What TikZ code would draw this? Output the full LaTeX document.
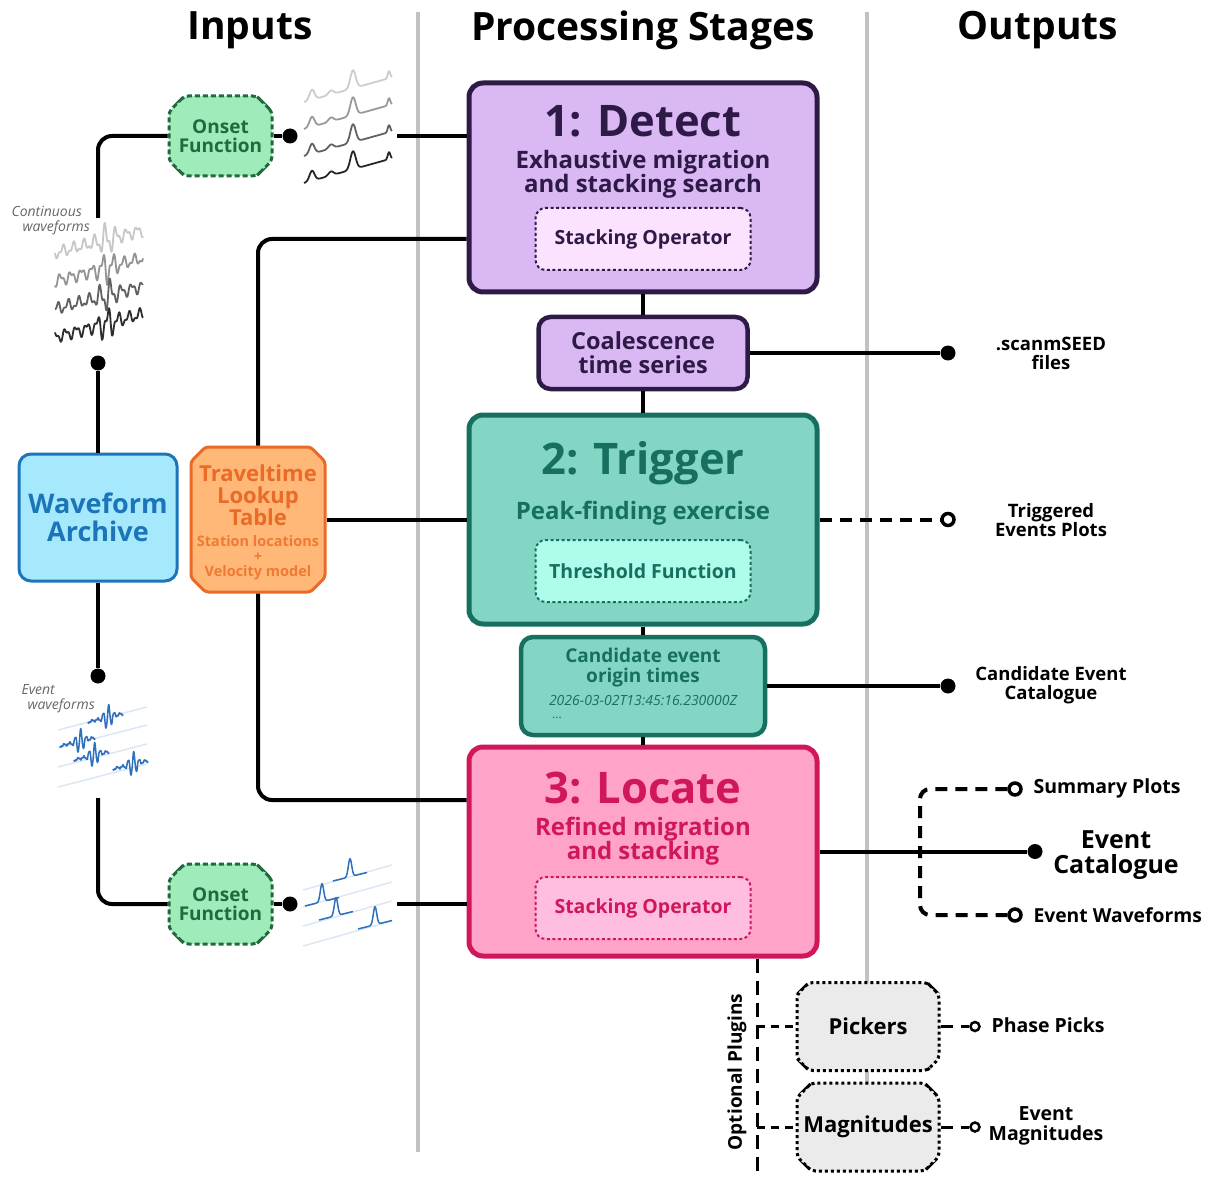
\documentclass[tikz,border=0pt]{standalone}
\usepackage{fontspec}
\setmainfont{Open Sans}
\usetikzlibrary{shapes.misc}

\definecolor{detectLine}{HTML}{2E1A47}
\definecolor{detectFill}{HTML}{DAB8F4}
\definecolor{detectInner}{HTML}{FBE2FE}
\definecolor{trigLine}{HTML}{17705F}
\definecolor{trigFill}{HTML}{84D6C4}
\definecolor{trigInner}{HTML}{AEFCEA}
\definecolor{locLine}{HTML}{D0175A}
\definecolor{locFill}{HTML}{FFA4C8}
\definecolor{locInner}{HTML}{FFBDDF}
\definecolor{archLine}{HTML}{1C74B9}
\definecolor{archFill}{HTML}{A6E9FD}
\definecolor{lutLine}{HTML}{EA6A28}
\definecolor{lutFill}{HTML}{FFB877}
\definecolor{lutText}{HTML}{F07A33}
\definecolor{onsetLine}{HTML}{1F6B3D}
\definecolor{onsetFill}{HTML}{9FEBB9}
\definecolor{plugFill}{HTML}{EBEBEB}
\definecolor{sepGray}{HTML}{C2C2C2}
\definecolor{waveBlue}{HTML}{2F70BD}
\definecolor{guideBlue}{HTML}{DCE7F4}

\newcommand{\fsz}[2]{\fontsize{#1}{#2}\selectfont}

\begin{document}
\begin{tikzpicture}[x=1pt, y=-1pt,
  declare function={gbump(\t,\m,\w)=exp(-((\t-\m)/\w)*((\t-\m)/\w));},
  sepline/.style={draw=sepGray, line width=4.5pt},
  stage/.style={draw, line width=5pt, rounded corners=14pt, minimum width=348pt, minimum height=209pt, inner sep=0pt},
  subbox/.style={draw, line width=2pt, dash pattern=on 3pt off 2.5pt, rounded corners=10pt, minimum width=215pt, minimum height=62pt, font=\bfseries\fsz{19.5}{19.5}},
  stagetitle/.style={font=\bfseries\fsz{43.5}{44}},
  subtitle/.style={align=center, font=\bfseries\fsz{24}{24}},
  midbox/.style={draw, line width=4.5pt, rounded corners=12pt, inner sep=0pt, align=center},
  onset/.style={chamfered rectangle, chamfered rectangle xsep=12pt, rounded corners=4pt, draw=onsetLine, fill=onsetFill, line width=3pt, dash pattern=on 5pt off 3pt, minimum width=103pt, minimum height=80pt, inner ysep=0pt, inner xsep=-5pt, text=onsetLine, align=center, font=\bfseries\fsz{19}{19}},
  plugin/.style={chamfered rectangle, chamfered rectangle xsep=14pt, rounded corners=4pt, draw, fill=plugFill, line width=3pt, dash pattern=on 3pt off 3pt, minimum width=142pt, minimum height=88pt, inner ysep=0pt, inner xsep=-7pt, font=\bfseries\fsz{22}{22}},
  lutbox/.style={chamfered rectangle, chamfered rectangle xsep=11pt, rounded corners=3pt, draw=lutLine, fill=lutFill, line width=3pt, minimum width=134pt, minimum height=145pt, inner ysep=0pt, inner xsep=-11pt},
  conn/.style={line width=4pt},
  dashconn/.style={conn, dash pattern=on 12pt off 8pt},
  dot/.style={circle, fill=black, inner sep=0pt, minimum size=15pt},
  odot/.style={circle, draw, fill=white, line width=3.5pt, inner sep=0pt, minimum size=12pt},
  outtxt/.style={align=center, font=\bfseries\fsz{18.5}{19}},
  headtxt/.style={font=\bfseries\fsz{39}{39}},
  wave/.style={line width=1.8pt, line join=round},
  guide/.style={draw=guideBlue, line width=1.5pt},
  wavelabel/.style={align=left, text=black!60, font=\itshape\fsz{14}{15}},
]
\useasboundingbox (0,0) rectangle (1210,1182);

% column separators
\draw[sepline] (418,12) -- (418,1152);
\draw[sepline] (867,12) -- (867,1150);

% headers
\node[headtxt] (inHead) at (250,30) {Inputs};
\node[headtxt] (procHead) at (643,30) {Processing Stages};
\node[headtxt] (outHead) at (1038,30) {Outputs};

% stage 1
\node[stage, draw=detectLine, fill=detectFill] (detect) at (643,187.5) {};
\node[stagetitle, text=detectLine] (detectTitle) at (643,121) {1: Detect};
\node[subtitle, text=detectLine] (detectSub) at (643,174) {Exhaustive migration\\and stacking search};
\node[subbox, draw=detectLine, fill=detectInner, text=detectLine] (detectOp) at (643,239) {Stacking Operator};

\node[midbox, draw=detectLine, fill=detectFill, text=detectLine, minimum width=209pt, minimum height=72pt, font=\bfseries\fsz{23.5}{24}] (coal) at (643,353) {Coalescence\\time series};

% stage 2
\node[stage, draw=trigLine, fill=trigFill] (trigger) at (643,519.5) {};
\node[stagetitle, text=trigLine] (trigTitle) at (643,463) {2: Trigger};
\node[subtitle, text=trigLine] (trigSub) at (643,513) {Peak-finding exercise};
\node[subbox, draw=trigLine, fill=trigInner, text=trigLine] (trigOp) at (643,571) {Threshold Function};

\node[midbox, draw=trigLine, fill=trigFill, minimum width=244pt, minimum height=98pt] (cand) at (643,686) {};
\node[text=trigLine, align=center, font=\bfseries\fsz{19}{20}] (candTxt) at (643,668) {Candidate event\\origin times};
\node[text=trigLine, inner sep=1pt, font=\itshape\fsz{14}{14}] (candTime) at (643,701) {2026-03-02T13:45:16.230000Z};
\node[text=trigLine, inner sep=1pt, font=\fsz{12}{12}] (candMore) at (557,718) {...};

% stage 3
\node[stage, draw=locLine, fill=locFill] (locate) at (643,851.5) {};
\node[stagetitle, text=locLine] (locTitle) at (643,788) {3: Locate};
\node[subtitle, text=locLine] (locSub) at (643,841) {Refined migration\\and stacking};
\node[subbox, draw=locLine, fill=locInner, text=locLine] (locOp) at (643,908) {Stacking Operator};

% inputs
\node[draw=archLine, fill=archFill, line width=3pt, rounded corners=12pt, minimum width=158pt, minimum height=127pt, text=archLine, align=center, font=\bfseries\fsz{27}{28}] (archive) at (98,517.5) {Waveform\\Archive};
\node[lutbox] (lut) at (258,519.5) {\parbox{134pt}{\centering\bfseries
  \vspace*{5pt}\color{lutLine}\fsz{22}{22}Traveltime\\Lookup\\Table\par\vspace{6pt}
  \color{lutText}\fsz{14.5}{15}Station locations\\+\\Velocity model\par}};

\node[onset] (onsetA) at (220.5,136) {Onset\\Function};
\node[onset] (onsetB) at (220.5,904) {Onset\\Function};

\node[wavelabel, anchor=west] (contTxt) at (8,221) {Continuous\\\hspace*{11pt}waveforms};
\node[wavelabel, anchor=west] (evTxt) at (18,699) {Event\\\hspace*{6pt}waveforms};

% continuous waveforms
\foreach \i/\c in {0/black!22, 1/black!42, 2/black!62, 3/black!82}
  \draw[wave, \c] plot[domain=0:88, samples=220] ({55+\x}, {253+28*\i-0.26*\x+(7+12*gbump(\x,52,9))*(0.65*sin(34*\x+90*\i)+0.35*sin(71*\x))});

% onset traces (top)
\foreach \i/\c in {0/black!20, 1/black!40, 2/black!62, 3/black!85}
  \draw[wave, \c] plot[domain=0:88, samples=180] ({304+\x}, {102+27*\i-0.28*\x-10*gbump(\x,8,3.5)-4*gbump(\x,27,3.5)-18*gbump(\x,49,3.8)-7*gbump(\x,85,1.8)});

% event waveforms
\foreach \l in {730,748,767,787}
  \draw[guide] (58,\l) -- (147,\l-23);
\foreach \sx/\sy in {88/722, 60/746, 74/760, 113/769}
  \draw[wave, waveBlue, line width=1.5pt] plot[domain=0:35, samples=160] ({\sx+\x}, {\sy-0.24*\x+(1+11*gbump(\x,20,5))*sin(65*\x)+0.7*sin(170*\x)});

% event onset traces
\foreach \l in {890,907,926,946}
  \draw[guide] (303,\l) -- (392,\l-25);
\foreach \sx/\sy in {333/881, 305/906, 319/920, 358/929}
  \draw[wave, waveBlue, line width=1.5pt] plot[domain=0:34, samples=120] ({\sx+\x}, {\sy-0.25*\x-18*gbump(\x,17,2.4)});

% input connectors
\coordinate (contTop) at (98,218);
\node[dot] (contDot) at (98,363) {};
\node[dot] (onsetADot) at (290,136) {};
\coordinate (onsetAEnd) at (397,136);
\node[dot] (evDot) at (98,676) {};
\coordinate (evTop) at (98,798);
\node[dot] (onsetBDot) at (290,904) {};
\coordinate (onsetBEnd) at (397,904);

\draw[conn, rounded corners=14pt] (contTop) |- (onsetA.west);
\draw[conn] (onsetA.east) -- (onsetADot);
\draw[conn] (onsetAEnd) -- (onsetAEnd -| detect.west);
\draw[conn] (contDot) -- (archive.north);
\draw[conn] (archive.south) -- (evDot);
\draw[conn, rounded corners=14pt] (evTop) |- (onsetB.west);
\draw[conn] (onsetB.east) -- (onsetBDot);
\draw[conn] (onsetBEnd) -- (onsetBEnd -| locate.west);
\draw[conn, rounded corners=14pt] (lut.north) |- ([yshift=-51.5pt]detect.west);
\draw[conn, rounded corners=14pt] (lut.south) |- ([yshift=51.5pt]locate.west);
\draw[conn] (lut.east) -- (trigger.west);

% stage chain
\draw[conn] (detect.south) -- (coal.north);
\draw[conn] (coal.south) -- (trigger.north);
\draw[conn] (trigger.south) -- (cand.north);
\draw[conn] (cand.south) -- (locate.north);

% outputs
\node[dot] (scanDot) at (948,353) {};
\node[outtxt] (scanTxt) at (1051,353) {.scanmSEED\\files};
\node[odot] (trigDot) at (948,519.5) {};
\node[outtxt] (trigTxt) at (1051,520) {Triggered\\Events Plots};
\node[dot] (candDot) at (948,686) {};
\node[outtxt] (candOut) at (1051,685) {Candidate Event\\Catalogue};
\node[dot] (catDot) at (1035,851.5) {};
\node[outtxt, font=\bfseries\fsz{25}{25}] (catTxt) at (1116,855) {Event\\Catalogue};
\node[odot] (sumDot) at (1015,789) {};
\node[outtxt, anchor=west, font=\bfseries\fsz{19.5}{20}] (sumTxt) at (1030,788) {Summary Plots};
\node[odot] (ewDot) at (1015,915) {};
\node[outtxt, anchor=west, font=\bfseries\fsz{19.3}{20}] (ewTxt) at (1030,915) {Event Waveforms};

\draw[conn] (coal.east) -- (scanDot);
\draw[dashconn] (trigger.east) -- (trigDot);
\draw[conn] (cand.east) -- (candDot);
\draw[conn] (locate.east) -- (catDot);
\draw[dashconn, rounded corners=10pt] (sumDot) -| (920,852) |- (ewDot);

% optional plugins
\node[plugin] (pickers) at (868,1026.5) {Pickers};
\node[plugin] (mags) at (868,1127) {Magnitudes};
\node[odot, minimum size=9pt, line width=2.5pt] (pickDot) at (975,1026.5) {};
\node[odot, minimum size=9pt, line width=2.5pt] (magDot) at (975,1127) {};
\node[outtxt, anchor=west, font=\bfseries\fsz{19.5}{20}] (pickTxt) at (988,1025) {Phase Picks};
\node[outtxt, font=\bfseries\fsz{19.5}{20}] (magTxt) at (1046,1126) {Event\\Magnitudes};
\node[rotate=90, font=\bfseries\fsz{19}{19}] (plugTxt) at (737,1072) {Optional Plugins};
\coordinate (plugBot) at (757,1178);

\draw[conn, line width=3pt, dash pattern=on 14pt off 8pt] (locate.south -| plugBot) -- (plugBot);
\draw[conn, line width=3pt, dash pattern=on 8pt off 6pt] (plugBot |- pickers.west) -- (pickers.west);
\draw[conn, line width=3pt, dash pattern=on 8pt off 6pt] (plugBot |- mags.west) -- (mags.west);
\draw[conn, line width=3pt, dash pattern=on 12pt off 8pt] (pickers.east) -- (pickDot);
\draw[conn, line width=3pt, dash pattern=on 12pt off 8pt] (mags.east) -- (magDot);
\end{tikzpicture}
\end{document}
